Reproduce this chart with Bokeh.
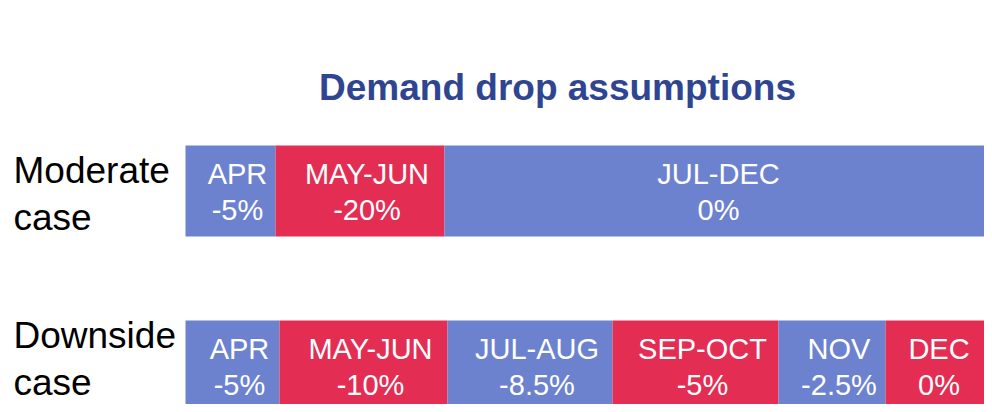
from bokeh.plotting import figure
from bokeh.models import ColumnDataSource, Range1d, Label
from bokeh.embed import file_html
from bokeh.resources import INLINE
from bokeh.core.properties import value

# ---- data ----
title_text = "Demand drop assumptions"
cases = ["Moderate\ncase", "Downside\ncase"]

moderate_periods = ["APR", "MAY-JUN", "JUL-DEC"]
moderate_drops = ["-5%", "-20%", "0%"]
moderate_widths = [90, 169, 548]

downside_periods = ["APR", "MAY-JUN", "JUL-AUG", "SEP-OCT", "NOV", "DEC"]
downside_drops = ["-5%", "-10%", "-8.5%", "-5%", "-2.5%", "0%"]
downside_widths = [94, 168, 165, 166, 107, 107]

# ---- style ----
BLUE = "#6C82CF"
RED = "#E32D53"
TITLE_COLOR = "#2F4592"
FONT = "Liberation Sans"

W, H = 984, 404
ROW_PX = 175.0
BAR_H = 91.0 / ROW_PX
y_start = -38.5 / ROW_PX

p = figure(width=W, height=H, output_backend="svg", toolbar_location=None,
           x_range=Range1d(-185, W - 185), y_range=Range1d(y_start, y_start + H / ROW_PX),
           min_border=0, outline_line_color=None)
p.axis.visible = False
p.grid.visible = False
p.background_fill_color = "white"
p.border_fill_color = "white"

rows = [(1, moderate_periods, moderate_drops, moderate_widths),
        (0, downside_periods, downside_drops, downside_widths)]

left, right, ys, colors, labels, tx, xoff = [], [], [], [], [], [], []
for row, periods, drops, widths in rows:
    acc = 0
    n = len(widths)
    for i, (per, dr, w) in enumerate(zip(periods, drops, widths)):
        left.append(acc)
        right.append(acc + w)
        ys.append(row)
        colors.append(BLUE if i % 2 == 0 else RED)
        labels.append(per + "\n" + dr)
        tx.append(acc + w / 2)
        xoff.append(0 if i == n - 1 else 7)
        acc += w

src = ColumnDataSource(dict(left=left, right=right, y=ys, color=colors,
                            label=labels, tx=tx, xoff=xoff))

p.hbar(y="y", left="left", right="right", height=BAR_H, fill_color="color",
       line_color=None, source=src)
p.text(x="tx", y="y", text="label", x_offset="xoff", y_offset=1, source=src,
       text_align="center", text_baseline="middle", text_color="white",
       text_font=value(FONT), text_font_size="29px", text_line_height=1.15)

case_src = ColumnDataSource(dict(x=[-172, -172], y=[1, 0], text=cases, yoff=[3, -7]))
p.text(x="x", y="y", text="text", source=case_src, y_offset="yoff",
       text_align="left", text_baseline="middle", text_color="black",
       text_font=value(FONT), text_font_size="37px", text_line_height=1.17)

p.add_layout(Label(x=557, y=H - 87, x_units="screen", y_units="screen",
                   text=title_text, text_align="center", text_baseline="alphabetic",
                   text_color=TITLE_COLOR, text_font=FONT, text_font_size="37px",
                   text_font_style="bold"))

open("out.html", "w").write(file_html(p, INLINE))
